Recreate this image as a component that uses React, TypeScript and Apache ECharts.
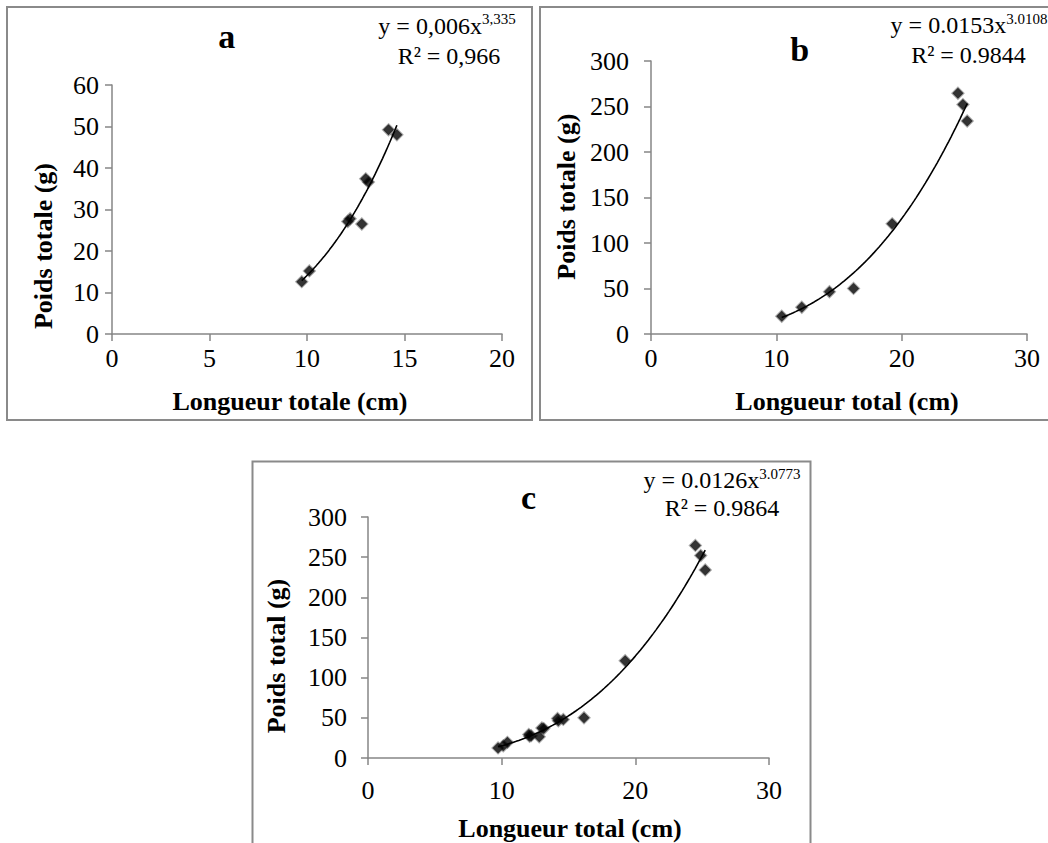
import { useEffect, useRef } from "react";
import * as echarts from "echarts";

const FONT = "'Liberation Serif', 'Times New Roman', serif";

// Panel a
const aLength = [9.73, 10.12, 12.09, 12.21, 12.81, 13.01, 13.15, 14.18, 14.61];
const aWeight = [12.6, 15.2, 27.1, 27.8, 26.5, 37.4, 36.6, 49.2, 48.0];
const aXTicks = [0, 5, 10, 15, 20];
const aYTicks = [0, 10, 20, 30, 40, 50, 60];
const aEquation = ["y = 0,006x", "3,335"];
const aR2 = "R² = 0,966";
const aXTitle = "Longueur totale (cm)";
const aYTitle = "Poids totale (g)";

// Panel b
const bLength = [10.43, 12.03, 14.24, 16.16, 19.24, 24.49, 24.89, 25.23];
const bWeight = [19.5, 29.4, 46.4, 50.1, 121.1, 264.6, 252.1, 234.1];
const bXTicks = [0, 10, 20, 30];
const bYTicks = [0, 50, 100, 150, 200, 250, 300];
const bEquation = ["y = 0.0153x", "3.0108"];
const bR2 = "R² = 0.9844";
const bXTitle = "Longueur total (cm)";
const bYTitle = "Poids totale (g)";

// Panel c (all fish: a + b)
const cLength = [...aLength, ...bLength];
const cWeight = [...aWeight, ...bWeight];
const cXTicks = [0, 10, 20, 30];
const cYTicks = [0, 50, 100, 150, 200, 250, 300];
const cEquation = ["y = 0.0126x", "3.0773"];
const cR2 = "R² = 0.9864";
const cXTitle = "Longueur total (cm)";
const cYTitle = "Poids total (g)";

const panelLetters = ["a", "b", "c"];

function powerFit(xs: number[], ys: number[]) {
  const n = xs.length;
  let sx = 0, sy = 0, sxx = 0, sxy = 0;
  for (let i = 0; i < n; i++) {
    const lx = Math.log(xs[i]);
    const ly = Math.log(ys[i]);
    sx += lx; sy += ly; sxx += lx * lx; sxy += lx * ly;
  }
  const b = (n * sxy - sx * sy) / (n * sxx - sx * sx);
  const a = Math.exp((sy - b * sx) / n);
  return { a, b };
}

function trend(xs: number[], ys: number[]) {
  const { a, b } = powerFit(xs, ys);
  const lo = Math.min(...xs);
  const hi = Math.max(...xs);
  const pts: number[][] = [];
  const steps = 80;
  for (let i = 0; i <= steps; i++) {
    const x = lo + ((hi - lo) * i) / steps;
    pts.push([x, a * Math.pow(x, b)]);
  }
  return pts;
}

const pairs = (xs: number[], ys: number[]) => xs.map((x, i) => [x, ys[i]]);

const AXIS_COLOR = "#868686";

function xAxisFor(ticks: number[], gridIndex: number, margin: number) {
  return {
    type: "value",
    gridIndex,
    min: ticks[0],
    max: ticks[ticks.length - 1],
    interval: ticks[1] - ticks[0],
    axisLine: { show: true, onZero: false, lineStyle: { color: AXIS_COLOR, width: 1.5 } },
    axisTick: { show: true, inside: false, length: 7, lineStyle: { color: AXIS_COLOR, width: 1.5 } },
    axisLabel: { fontFamily: FONT, fontSize: 26, color: "#000", margin },
    splitLine: { show: false },
  };
}

function yAxisFor(ticks: number[], gridIndex: number, margin: number) {
  return {
    type: "value",
    gridIndex,
    min: ticks[0],
    max: ticks[ticks.length - 1],
    interval: ticks[1] - ticks[0],
    axisLine: { show: true, onZero: false, lineStyle: { color: AXIS_COLOR, width: 1.5 } },
    axisTick: { show: true, inside: false, length: 7, lineStyle: { color: AXIS_COLOR, width: 1.5 } },
    axisLabel: { fontFamily: FONT, fontSize: 26, color: "#000", margin },
    splitLine: { show: false },
  };
}

function scatterFor(xs: number[], ys: number[], idx: number) {
  return {
    type: "scatter",
    xAxisIndex: idx,
    yAxisIndex: idx,
    data: pairs(xs, ys),
    symbol: "diamond",
    symbolSize: 11,
    itemStyle: { color: "#000", borderColor: "rgba(40,40,40,0.5)", borderWidth: 2 },
    z: 2,
  };
}

function trendFor(xs: number[], ys: number[], idx: number) {
  return {
    type: "line",
    xAxisIndex: idx,
    yAxisIndex: idx,
    data: trend(xs, ys),
    showSymbol: false,
    symbol: "none",
    lineStyle: { color: "#000", width: 1.6 },
    z: 3,
  };
}

function frame(x: number, y: number, w: number, h: number) {
  return {
    type: "rect",
    silent: true,
    shape: { x, y, width: w, height: h },
    style: { fill: "none", stroke: "#8a8a8a", lineWidth: 2 },
  };
}

function label(text: string, x: number, y: number, size: number, bold: boolean, rotate = false) {
  return {
    type: "text",
    silent: true,
    x,
    y,
    rotation: rotate ? Math.PI / 2 : 0,
    style: {
      text,
      fontFamily: FONT,
      fontSize: size,
      fontWeight: bold ? "bold" : "normal",
      fill: "#000",
      align: "center",
      verticalAlign: "middle",
    },
  };
}

function equation(eq: string[], x: number, y: number) {
  return {
    type: "text",
    silent: true,
    x,
    y,
    style: {
      text: `{m|${eq[0]}}{s|${eq[1]}}`,
      align: "center",
      verticalAlign: "middle",
      rich: {
        m: { fontFamily: FONT, fontSize: 24, fill: "#000", lineHeight: 28 },
        s: { fontFamily: FONT, fontSize: 15, fill: "#000", lineHeight: 15, verticalAlign: "top" },
      },
    },
  };
}

export default function App() {
  const ref = useRef<HTMLDivElement>(null);
  useEffect(() => {
    if (!ref.current) return;
    const chart = echarts.init(ref.current, undefined, { renderer: "svg" });
    chart.setOption({
      animation: false,
      backgroundColor: "#fff",
      grid: [
        { left: 112, top: 85, width: 390, height: 249 },
        { left: 651, top: 61, width: 376, height: 273 },
        { left: 368, top: 517, width: 401, height: 241 },
      ],
      xAxis: [xAxisFor(aXTicks, 0, 11), xAxisFor(bXTicks, 1, 11), xAxisFor(cXTicks, 2, 19)],
      yAxis: [yAxisFor(aYTicks, 0, 13), yAxisFor(bYTicks, 1, 22), yAxisFor(cYTicks, 2, 21)],
      series: [
        scatterFor(aLength, aWeight, 0),
        trendFor(aLength, aWeight, 0),
        scatterFor(bLength, bWeight, 1),
        trendFor(bLength, bWeight, 1),
        scatterFor(cLength, cWeight, 2),
        trendFor(cLength, cWeight, 2),
      ],
      graphic: [
        frame(7, 7, 525, 413),
        frame(540, 7, 520, 413),
        frame(252.5, 461.5, 558, 400),
        label(panelLetters[0], 226.7, 36, 34, true),
        label(panelLetters[1], 799.7, 49, 34, true),
        label(panelLetters[2], 528.5, 497, 34, true),
        equation(aEquation, 447, 25.5),
        label(aR2, 449, 56, 24, false),
        equation(bEquation, 969, 25),
        label(bR2, 968.5, 55, 24, false),
        equation(cEquation, 722, 480),
        label(cR2, 722, 508, 24, false),
        label(aXTitle, 290, 401, 26, true),
        label(bXTitle, 847, 401, 26, true),
        label(cXTitle, 570, 828, 26, true),
        label(aYTitle, 43.3, 246, 26, true, true),
        label(bYTitle, 566.3, 196.7, 26, true, true),
        label(cYTitle, 276.7, 656, 26, true, true),
      ],
    });
    return () => chart.dispose();
  }, []);
  return (
    <div
      ref={ref}
      style={{ position: "absolute", left: 0, top: 0, width: 1048, height: 843, background: "#fff" }}
    />
  );
}
